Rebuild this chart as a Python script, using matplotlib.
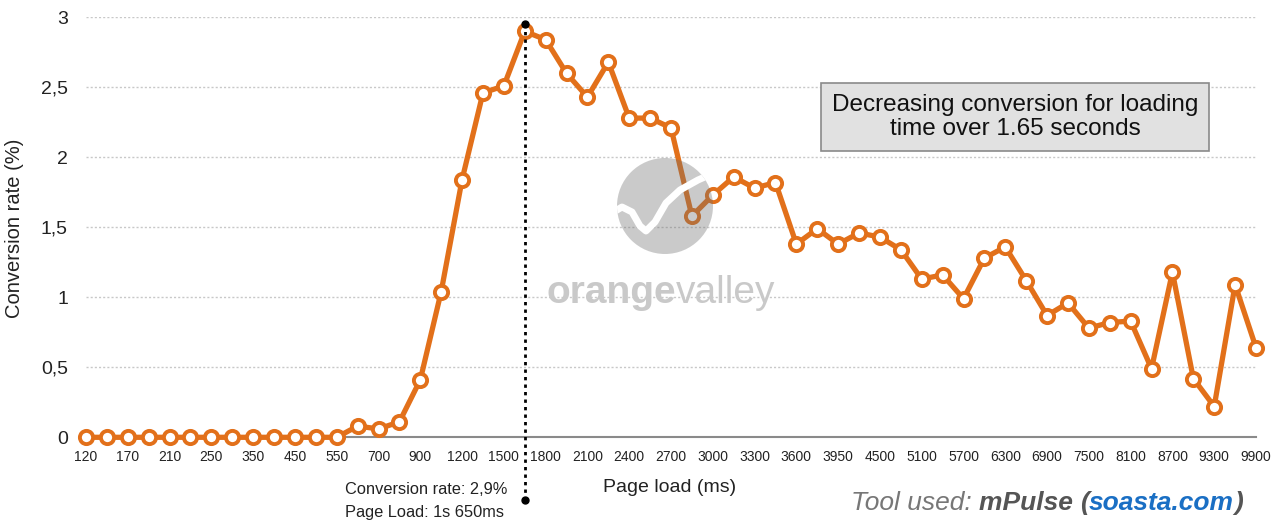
import matplotlib
matplotlib.use("Agg")
import matplotlib.pyplot as plt
from matplotlib.patches import Ellipse

# page load buckets (ms) shown on the axis, one label every second point
tick_labels = ["120", "170", "210", "250", "350", "450", "550", "700", "900",
               "1200", "1500", "1800", "2100", "2400", "2700", "3000", "3300",
               "3600", "3950", "4500", "5100", "5700", "6300", "6900", "7500",
               "8100", "8700", "9300", "9900"]

# conversion rate (%) per bucket
conversion = [0, 0, 0, 0, 0, 0, 0, 0, 0, 0, 0, 0, 0,
              0.08, 0.06, 0.11, 0.41, 1.04, 1.84, 2.46, 2.51, 2.90,
              2.84, 2.60, 2.43, 2.68, 2.28, 2.28, 2.21, 1.58, 1.73,
              1.86, 1.78, 1.82, 1.38, 1.49, 1.38, 1.46, 1.43, 1.34,
              1.13, 1.16, 0.99, 1.28, 1.36, 1.12, 0.87, 0.96, 0.78,
              0.82, 0.83, 0.49, 1.18, 0.42, 0.22, 1.09, 0.64]

peak_index = 21
peak_top = 2.95

yticks = [0, 0.5, 1, 1.5, 2, 2.5, 3]
ytick_labels = ["0", "0,5", "1", "1,5", "2", "2,5", "3"]

plt.rcParams["font.family"] = ["Liberation Sans", "DejaVu Sans"]

W, H = 1279, 520
fig = plt.figure(figsize=(W / 100, H / 100), dpi=100)
ax = fig.add_axes([86 / W, (H - 437.3) / H, 1170 / W, 420 / H])

orange = "#e2701a"
x = list(range(len(conversion)))
ax.plot(x, conversion, color=orange, lw=3.8, marker="o", ms=9.5,
        mfc="white", mec=orange, mew=2.8, clip_on=False, zorder=3)

ax.set_xlim(0, len(conversion) - 1)
ax.set_ylim(0, 3)
ax.set_xticks(range(0, len(conversion), 2))
ax.set_xticklabels(tick_labels, fontsize=10, color="#222222")
ax.set_yticks(yticks)
ax.set_yticklabels(ytick_labels, fontsize=14, color="#222222")
ax.tick_params(axis="both", length=0)
ax.tick_params(axis="x", pad=9)
ax.tick_params(axis="y", pad=13)

for s in ["top", "right", "left"]:
    ax.spines[s].set_visible(False)
ax.spines["bottom"].set_color("#8a8a8a")
ax.spines["bottom"].set_linewidth(1.5)

for v in yticks[1:]:
    ax.axhline(v, color="#c8c8c8", lw=1, ls=(0, (1.5, 1.5)), zorder=1)

# peak marker
ax.plot([peak_index, peak_index], [peak_top, -0.45], color="black", lw=2,
        ls=(0, (1.2, 1.5)), clip_on=False, zorder=4)
ax.plot([peak_index, peak_index], [peak_top, -0.45], "o", color="black",
        ms=5, clip_on=False, zorder=5)
fig.text(507 / W, (H - 490) / H, "Conversion rate: 2,9%", ha="right",
         va="center", fontsize=11.8, color="#222222")
fig.text(345 / W, (H - 513) / H, "Page Load: 1s 650ms", ha="left",
         va="center", fontsize=11.8, color="#222222")

# note box
fig.text(1015 / W, (H - 117) / H,
         "Decreasing conversion for loading\ntime over 1.65 seconds",
         ha="center", va="center", fontsize=17.5, linespacing=1.15,
         color="#111111",
         bbox=dict(boxstyle="square,pad=0.45", fc="#e1e1e1", ec="#8a8a8a",
                   lw=1.2))

# axis titles
fig.text(670 / W, (H - 487) / H, "Page load (ms)", ha="center", va="center",
         fontsize=14, color="#222222")
fig.text(15 / W, (H - 228) / H, "Conversion rate (%)", ha="center",
         va="center", rotation=90, fontsize=14.5, color="#222222")

# watermark
circ = Ellipse((665 / W, (H - 206) / H), 96 / W, 96 / H,
               transform=fig.transFigure, fc="#6e6e6e", ec="none",
               alpha=0.36, zorder=6)
fig.add_artist(circ)
wx = [612, 622, 632, 640, 646, 655, 666, 680, 698, 716]
wy = [213, 207, 212, 226, 231, 222, 203, 190, 180, 172]
wave = plt.Line2D([a / W for a in wx], [(H - b) / H for b in wy],
                  transform=fig.transFigure, color="white", lw=5,
                  solid_capstyle="round", zorder=7)
fig.add_artist(wave)
wave.set_clip_path(circ)
t1 = fig.text(546 / W, (H - 303) / H, "orange", ha="left", va="baseline",
              fontsize=28, fontweight="bold", color="#c9c9c9", zorder=6)
ax.annotate("valley", xy=(1, 0), xycoords=t1, va="bottom", fontsize=28,
            color="#c9c9c9", annotation_clip=False, zorder=6)

# tool credit
fs = 19
p1 = fig.text(851 / W, (H - 503) / H, "Tool used: ", ha="left", va="center",
              fontsize=fs, style="italic", color="#777777")
p2 = ax.annotate("mPulse ", xy=(1, 0), xycoords=p1, va="bottom",
                 fontsize=fs, style="italic", fontweight="bold",
                 color="#555555", annotation_clip=False)
p3 = ax.annotate("(", xy=(1, 0), xycoords=p2, va="bottom", fontsize=fs,
                 style="italic", fontweight="bold", color="#555555",
                 annotation_clip=False)
p4 = ax.annotate("soasta.com", xy=(1, 0), xycoords=p3, va="bottom",
                 fontsize=fs, style="italic", fontweight="bold",
                 color="#1a6fc4", annotation_clip=False)
ax.annotate(")", xy=(1, 0), xycoords=p4, va="bottom", fontsize=fs,
            style="italic", fontweight="bold", color="#555555",
            annotation_clip=False)

plt.savefig("out.png", dpi=100)
